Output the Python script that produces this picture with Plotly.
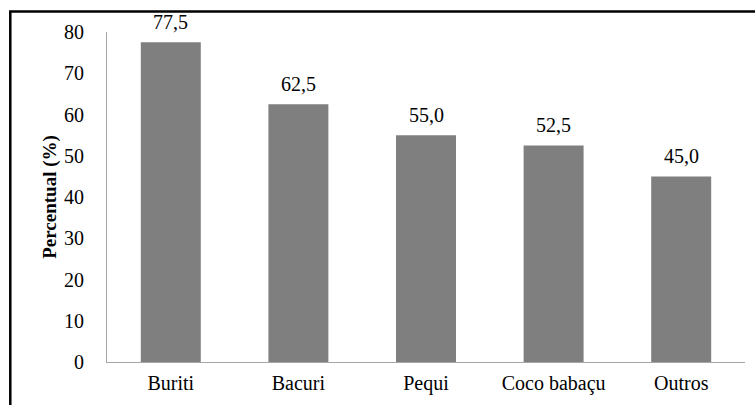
import plotly.graph_objects as go

categorias = ["Buriti", "Bacuri", "Pequi", "Coco babaçu", "Outros"]
percentuais = [77.5, 62.5, 55.0, 52.5, 45.0]
rotulos = ["77,5", "62,5", "55,0", "52,5", "45,0"]
ticks_y = [0, 10, 20, 30, 40, 50, 60, 70, 80]

W, H = 755, 405
L, R, T, B = 107, 10, 32, 39
pw, ph = W - L - R, H - T - B

def px_x(p):
    return (p - L) / pw

def px_y(p):
    return (H - B - p) / ph

fonte = '"Liberation Serif", "Times New Roman", serif'

fig = go.Figure(
    go.Bar(
        x=categorias,
        y=percentuais,
        marker=dict(color="#7f7f7f", line=dict(width=0)),
        width=0.47,
    )
)

# value labels above each bar
for cat, val, txt in zip(categorias, percentuais, rotulos):
    fig.add_annotation(
        x=cat, y=val, text=txt, showarrow=False,
        yanchor="bottom", yshift=7,
        font=dict(family=fonte, size=20, color="#000000"),
    )

fig.update_layout(
    width=W,
    height=H,
    margin=dict(l=L, r=R, t=T, b=B),
    plot_bgcolor="white",
    paper_bgcolor="white",
    showlegend=False,
    font=dict(family=fonte, size=20, color="#000000"),
    shapes=[
        dict(
            type="rect",
            xref="paper", yref="paper",
            x0=px_x(10.3), x1=px_x(770),
            y0=px_y(420), y1=px_y(11.2),
            line=dict(color="#000000", width=2.5),
            fillcolor="rgba(0,0,0,0)",
            layer="above",
        )
    ],
)

fig.update_xaxes(
    showline=True,
    linecolor="#a6a6a6",
    linewidth=1,
    ticks="",
    showgrid=False,
    tickfont=dict(family=fonte, size=20),
    ticklabelstandoff=3,
)

fig.update_yaxes(
    range=[0, 80],
    tickvals=ticks_y,
    showline=True,
    linecolor="#a6a6a6",
    linewidth=1,
    ticks="",
    showgrid=False,
    zeroline=False,
    tickfont=dict(family=fonte, size=20),
    ticklabelstandoff=18,
    title=dict(
        text="<b>Percentual (%)</b>",
        font=dict(family=fonte, size=19),
        standoff=2,
    ),
)

fig.write_html("out.html")
